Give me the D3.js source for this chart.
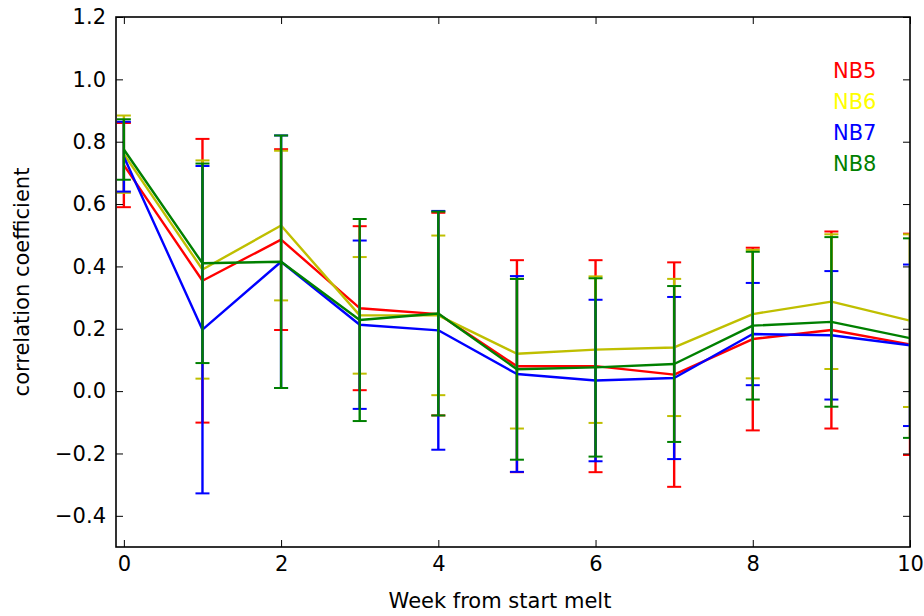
<!DOCTYPE html>
<html>
<head>
<meta charset="utf-8">
<script src="https://cdn.jsdelivr.net/npm/d3@7/dist/d3.min.js"></script>
<style>
  html, body { margin: 0; padding: 0; background: #fff; }
  svg { display: block; }
  text { font-family: "DejaVu Sans", sans-serif; }
</style>
</head>
<body>
<svg id="chart" width="924" height="616"></svg>
<script>
// Weeks since the start of melt
const weeks = [0, 1, 2, 3, 4, 5, 6, 7, 8, 9, 10];

// Mean correlation coefficient per site, with symmetric error half-widths
const nb5 = [0.725, 0.354, 0.486, 0.266, 0.247, 0.080, 0.080, 0.053, 0.167, 0.196, 0.150];
const nb5Err = [0.135, 0.455, 0.290, 0.263, 0.325, 0.340, 0.340, 0.360, 0.293, 0.316, 0.355];

const nb6 = [0.760, 0.390, 0.531, 0.243, 0.243, 0.120, 0.133, 0.140, 0.247, 0.287, 0.226];
const nb6Err = [0.124, 0.350, 0.240, 0.187, 0.256, 0.240, 0.235, 0.220, 0.206, 0.216, 0.277];

const nb7 = [0.752, 0.197, 0.415, 0.213, 0.195, 0.055, 0.034, 0.042, 0.183, 0.179, 0.147];
const nb7Err = [0.112, 0.525, 0.405, 0.270, 0.383, 0.314, 0.259, 0.260, 0.164, 0.206, 0.259];

const nb8 = [0.775, 0.410, 0.415, 0.228, 0.249, 0.070, 0.076, 0.087, 0.210, 0.222, 0.170];
const nb8Err = [0.097, 0.320, 0.405, 0.324, 0.327, 0.290, 0.286, 0.250, 0.237, 0.272, 0.320];

const siteNames = ["NB5", "NB6", "NB7", "NB8"];
const lineColors = ["#ff0000", "#bfbf00", "#0000ff", "#008000"];
const labelColors = ["#ff0000", "#ffff00", "#0000ff", "#008000"];

const xTicks = [0, 2, 4, 6, 8, 10];
const yTicks = [-0.4, -0.2, 0.0, 0.2, 0.4, 0.6, 0.8, 1.0, 1.2];

const series = [
  { name: siteNames[0], values: nb5, errs: nb5Err },
  { name: siteNames[1], values: nb6, errs: nb6Err },
  { name: siteNames[2], values: nb7, errs: nb7Err },
  { name: siteNames[3], values: nb8, errs: nb8Err }
];

const box = { left: 116, right: 910, top: 17, bottom: 547 };
const fontPx = "21px";
const svg = d3.select("#chart");

const x = d3.scaleLinear().domain([-0.1, 10]).range([box.left, box.right]);
const y = d3.scaleLinear().domain([-0.5, 1.2]).range([box.bottom, box.top]);

svg.append("defs").append("clipPath").attr("id", "plot-clip")
  .append("rect")
  .attr("x", box.left).attr("y", box.top)
  .attr("width", box.right - box.left).attr("height", box.bottom - box.top);

const plot = svg.append("g").attr("clip-path", "url(#plot-clip)");

const line = d3.line().x((d, i) => x(weeks[i])).y(d => y(d));
const capHalf = 7;
const strokeW = 2.4;

series.forEach((s, k) => {
  const g = plot.append("g");
  const color = lineColors[k];
  g.append("path")
    .datum(s.values)
    .attr("d", line)
    .attr("fill", "none")
    .attr("stroke", color)
    .attr("stroke-width", strokeW)
    .attr("stroke-linejoin", "round");
  const bars = g.selectAll("g.err").data(s.values.map((v, i) => ({ w: weeks[i], v, e: s.errs[i] })))
    .enter().append("g").attr("class", "err");
  bars.append("line")
    .attr("x1", d => x(d.w)).attr("x2", d => x(d.w))
    .attr("y1", d => y(d.v - d.e)).attr("y2", d => y(d.v + d.e))
    .attr("stroke", color).attr("stroke-width", strokeW);
  bars.append("line")
    .attr("x1", d => x(d.w) - capHalf).attr("x2", d => x(d.w) + capHalf)
    .attr("y1", d => y(d.v + d.e)).attr("y2", d => y(d.v + d.e))
    .attr("stroke", color).attr("stroke-width", 2);
  bars.append("line")
    .attr("x1", d => x(d.w) - capHalf).attr("x2", d => x(d.w) + capHalf)
    .attr("y1", d => y(d.v - d.e)).attr("y2", d => y(d.v - d.e))
    .attr("stroke", color).attr("stroke-width", 2);
});

// Axes with inward ticks on all four sides
const fmtY = d => d3.format(".1f")(d).replace("-", "\u2212");
const tickLen = 7;

const axB = svg.append("g").attr("transform", `translate(0,${box.bottom})`)
  .call(d3.axisBottom(x).tickValues(xTicks).tickFormat(d3.format("d")).tickSize(-tickLen).tickPadding(9));
const axT = svg.append("g").attr("transform", `translate(0,${box.top})`)
  .call(d3.axisTop(x).tickValues(xTicks).tickFormat("").tickSize(-tickLen));
const axL = svg.append("g").attr("transform", `translate(${box.left},0)`)
  .call(d3.axisLeft(y).tickValues(yTicks).tickFormat(fmtY).tickSize(-tickLen).tickPadding(10));
const axR = svg.append("g").attr("transform", `translate(${box.right},0)`)
  .call(d3.axisRight(y).tickValues(yTicks).tickFormat("").tickSize(-tickLen));

[axB, axT, axL, axR].forEach(a => {
  a.select(".domain").remove();
  a.selectAll(".tick line").attr("stroke", "#000").attr("stroke-width", 1);
  a.selectAll(".tick text")
    .attr("fill", "#000")
    .style("font-family", "'DejaVu Sans', sans-serif")
    .style("font-size", fontPx);
});

svg.append("rect")
  .attr("x", box.left).attr("y", box.top)
  .attr("width", box.right - box.left).attr("height", box.bottom - box.top)
  .attr("fill", "none").attr("stroke", "#000").attr("stroke-width", 1.6);

// Axis titles
svg.append("text")
  .attr("x", 500).attr("y", 608)
  .attr("text-anchor", "middle")
  .style("font-size", fontPx)
  .attr("fill", "#000")
  .text("Week from start melt");

svg.append("text")
  .attr("transform", `translate(29,${(box.top + box.bottom) / 2}) rotate(-90)`)
  .attr("text-anchor", "middle")
  .style("font-size", fontPx)
  .attr("fill", "#000")
  .text("correlation coefficient");

// Site labels
svg.append("g").selectAll("text").data(siteNames).enter().append("text")
  .attr("x", 833)
  .attr("y", (d, i) => 78 + i * 31)
  .style("font-size", fontPx)
  .attr("fill", (d, i) => labelColors[i])
  .text(d => d);
</script>
</body>
</html>
